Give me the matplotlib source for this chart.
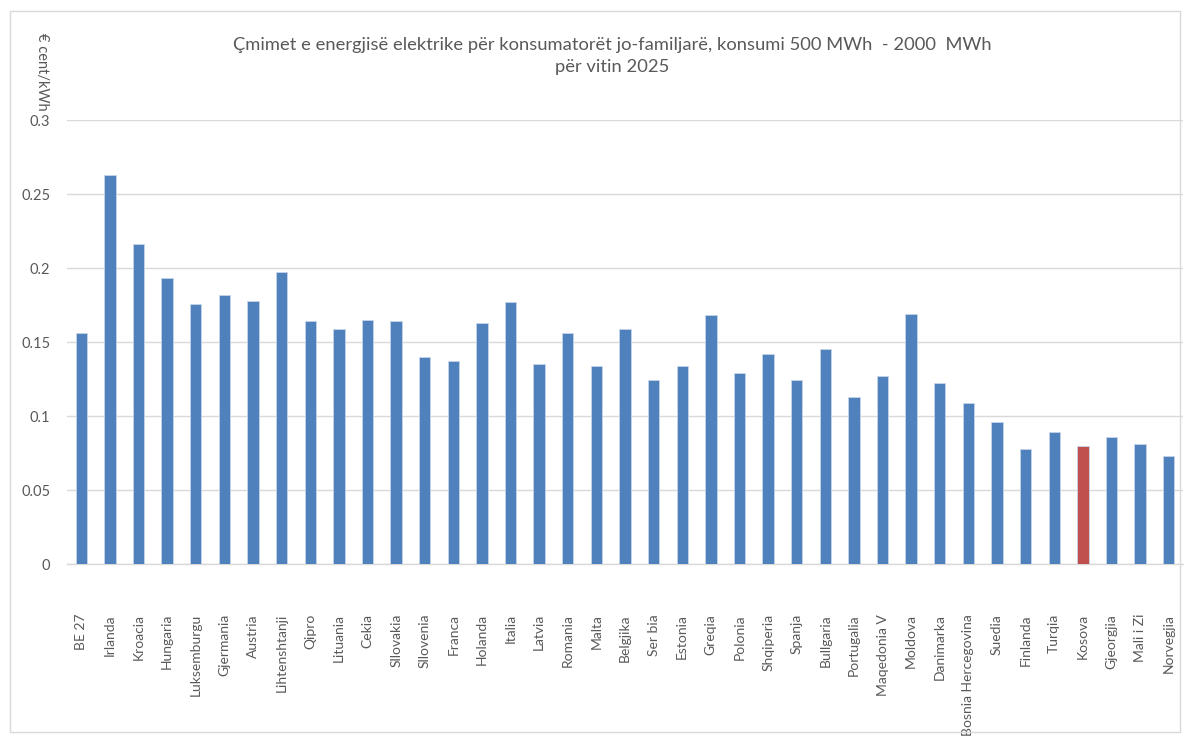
import matplotlib.pyplot as plt
from matplotlib.patches import Rectangle

plt.rcParams['font.family'] = ['Lato', 'DejaVu Sans']

countries = ["BE 27", "Irlanda", "Kroacia", "Hungaria", "Luksemburgu", "Gjermania",
             "Austria", "Lihtenshtanji", "Qipro", "Lituania", "Cekia", "Sllovakia",
             "Sllovenia", "Franca", "Holanda", "Italia", "Latvia", "Romania", "Malta",
             "Belgjika", "Ser bia", "Estonia", "Greqia", "Polonia", "Shqiperia", "Spanja",
             "Bullgaria", "Portugalia", "Maqedonia V", "Moldova", "Danimarka",
             "Bosnia Hercegovina", "Suedia", "Finlanda", "Turqia", "Kosova", "Gjeorgjia",
             "Mali i Zi", "Norvegjia"]
prices = [0.156, 0.263, 0.216, 0.193, 0.176, 0.182,
          0.178, 0.197, 0.164, 0.159, 0.165, 0.164,
          0.140, 0.137, 0.163, 0.177, 0.135, 0.156, 0.134,
          0.159, 0.124, 0.134, 0.168, 0.129, 0.142, 0.124,
          0.145, 0.113, 0.127, 0.169, 0.122,
          0.109, 0.096, 0.078, 0.089, 0.080, 0.086,
          0.081, 0.073]
highlight = "Kosova"

title = ("Çmimet e energjisë elektrike për konsumatorët jo-familjarë, konsumi 500 MWh  - 2000  MWh\n"
         "për vitin 2025")

blue = "#4F81BD"
red = "#C0504D"
grey_txt = "#595959"

fig = plt.figure(figsize=(11.9, 7.42), dpi=100)
W, H = 1190, 742
ax = fig.add_axes([67 / W, 1 - 564 / H, (1183 - 67) / W, (564 - 120) / H])

colors = [red if c == highlight else blue for c in countries]
x = list(range(len(countries)))
ax.bar(x, prices, width=0.4, color=colors, edgecolor="#c6d5ea", linewidth=0.6, zorder=3)

ax.set_xlim(-0.5, len(countries) - 0.5)
ax.set_ylim(0, 0.3)
ax.set_yticks([0, 0.05, 0.1, 0.15, 0.2, 0.25, 0.3])
ax.set_yticklabels(["0", "0.05", "0.1", "0.15", "0.2", "0.25", "0.3"])
ax.grid(axis="y", color="#d9d9d9", linewidth=1.0, zorder=0)
for s in ["top", "right", "left"]:
    ax.spines[s].set_visible(False)
ax.spines["bottom"].set_color("#d9d9d9")
ax.spines["bottom"].set_linewidth(1.0)

ax.set_xticks(x)
ax.set_xticklabels(countries, rotation=90, va="top", ha="center")
ax.tick_params(axis="x", length=0, pad=36, labelsize=10, labelcolor=grey_txt)
ax.tick_params(axis="y", length=0, pad=12, labelsize=10.5, labelcolor=grey_txt)

fig.text(612 / W, 1 - 56 / H, title, ha="center", va="center", fontsize=13.2,
         color=grey_txt, linespacing=1.45)
fig.text(42 / W, 1 - 72 / H, "€ cent/kWh", rotation=-90, ha="center", va="center",
         fontsize=10.5, color=grey_txt)

fig.patches.append(Rectangle((10 / W, 1 - 732 / H), 1170 / W, 721 / H,
                             transform=fig.transFigure, fill=False,
                             edgecolor="#d9d9d9", linewidth=1.0))

fig.savefig("out.png", dpi=100)
